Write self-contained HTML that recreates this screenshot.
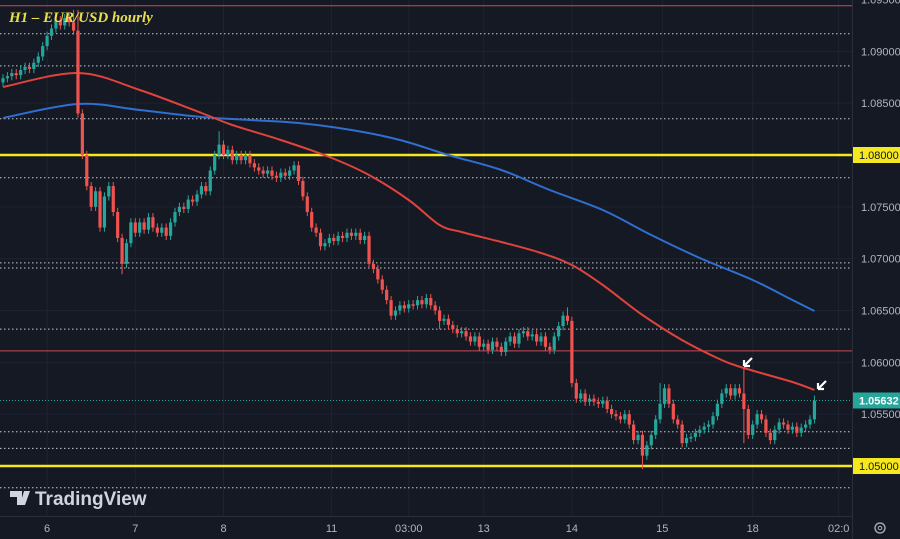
<!DOCTYPE html>
<html><head><meta charset="utf-8"><style>
html,body{margin:0;padding:0;background:#151924;width:900px;height:539px;overflow:hidden}
svg{display:block;font-family:"Liberation Sans",sans-serif}
</style></head><body>
<svg id="c" width="900" height="539" viewBox="0 0 900 539">
<rect width="900" height="539" fill="#151924"/>
<g id="grid"></g>
<g id="levels"></g>
<g id="mas"></g>
<g id="candles"></g>
<g id="axes"></g>
<text x="9" y="22" fill="#e8e04a" font-family="Liberation Serif,serif" font-style="italic" font-weight="bold" font-size="15">H1 – EUR/USD hourly</text>
<g>
<path d="M10 491h12v14h-5v-8h-7z M24 491h6l-5 14h-5z" fill="#d1d4dc"/>
<text x="35" y="505" fill="#d1d4dc" font-size="19" font-weight="bold">TradingView</text>
</g>
<g><path d="M752 358 L744 366 M744 366 l0-6 M744 366 l6 0" stroke="#fff" stroke-width="2.2" fill="none"/></g>
<g><path d="M826 381 L818 389 M818 389 l0-6 M818 389 l6 0" stroke="#fff" stroke-width="2.2" fill="none"/></g>
<g><circle cx="880" cy="528" r="5" stroke="#b2b5be" fill="none" stroke-width="1.3"/><circle cx="880" cy="528" r="1.8" stroke="#b2b5be" fill="none"/></g>
</svg>
<script>
const closes=[1.0874,1.0876,1.0879,1.0877,1.0882,1.0885,1.0883,1.0889,1.0895,1.0905,
1.0915,1.0922,1.0930,1.0925,1.0932,1.0928,1.0920,1.0840,1.0800,1.0770,
1.0750,1.0765,1.0730,1.0760,1.0770,1.0745,1.0720,1.0695,1.0715,1.0735,
1.0725,1.0735,1.0728,1.0740,1.0730,1.0725,1.0730,1.0722,1.0735,1.0745,
1.0750,1.0748,1.0757,1.0755,1.0762,1.0770,1.0765,1.0785,1.0800,1.0810,
1.0800,1.0805,1.0795,1.0800,1.0795,1.0800,1.0792,1.0788,1.0785,1.0782,
1.0785,1.0780,1.0778,1.0783,1.0780,1.0785,1.0790,1.0775,1.0760,1.0745,
1.0730,1.0725,1.0712,1.0715,1.0720,1.0717,1.0722,1.0720,1.0725,1.0722,
1.0725,1.0718,1.0722,1.0695,1.0690,1.0680,1.0670,1.0660,1.0645,1.0650,
1.0655,1.0652,1.0656,1.0655,1.0660,1.0656,1.0662,1.0655,1.0650,1.0640,
1.0642,1.0636,1.0632,1.0628,1.0630,1.0625,1.0620,1.0625,1.0615,1.0618,
1.0612,1.0620,1.0615,1.0610,1.0620,1.0625,1.0618,1.0628,1.0630,1.0625,
1.0627,1.0620,1.0625,1.0615,1.0612,1.0625,1.0635,1.0645,1.0640,1.0580,
1.0565,1.0570,1.0562,1.0565,1.0562,1.0560,1.0563,1.0555,1.0550,1.0548,
1.0545,1.0550,1.0540,1.0525,1.0530,1.0510,1.0520,1.0530,1.0545,1.0560,
1.0575,1.0560,1.0545,1.0540,1.0522,1.0527,1.0528,1.0532,1.0535,1.0538,
1.0540,1.0548,1.0560,1.0570,1.0575,1.0568,1.0575,1.0570,1.0555,1.0530,
1.0540,1.0550,1.0545,1.0532,1.0525,1.0535,1.0542,1.0540,1.0535,1.0538,
1.0532,1.0537,1.0540,1.0545,1.0563];
const firstOpen=1.0870;
const spikeIdx=[16,17,27,49,99,128,145,149,168,184];
const spikeHigh=[1.0940,1.0940,null,1.0823,null,1.0653,null,1.0580,1.0595,1.0568];
const spikeLow=[null,null,1.0685,null,1.0632,null,1.0497,null,1.0522,null];
const redIdx=[0,17,31,45,52,63,74,83,92,99,104,113,122,129,136,145,154,163,168,179,184];
const redVals=[1.08656,1.08791,1.08627,1.08405,1.08289,1.08145,1.07981,1.07807,1.07566,1.07325,1.07257,1.07161,1.07055,1.06939,1.06746,1.06457,1.06215,1.06022,1.05945,1.05810,1.05733];
const blueIdx=[0,17,31,45,56,67,79,90,101,113,124,136,147,158,170,179,184];
const blueVals=[1.08357,1.08492,1.08434,1.08367,1.08338,1.08309,1.08241,1.08145,1.08000,1.07855,1.07662,1.07469,1.07228,1.07006,1.06794,1.06601,1.06495];
const priceTicks=[1.095,1.090,1.085,1.080,1.075,1.070,1.065,1.060,1.055,1.050];
const dottedLevels=[1.0917,1.0886,1.0835,1.0778,1.0696,1.0691,1.0632,1.0533,1.0517,1.0479];
const redLevels=[1.0944,1.0611];
const yellowLevels=[1.0800,1.0500];
const lastPrice=1.05632;
const timeLabels=["6","7","8","11","03:00","13","14","15","18","02:0"];
const timeIdx=[10,30,50,74.5,92,109,129,149.5,170,189.5];

const NS="http://www.w3.org/2000/svg";
const PW=852, AXY=516;
function y(p){return 155+(1.08-p)*10367;}
function x(i){return 3+i*4.41;}
function mk(tag,attrs,parent){const e=document.createElementNS(NS,tag);for(const k in attrs)e.setAttribute(k,attrs[k]);parent.appendChild(e);return e;}
const grid=document.getElementById('grid'),lv=document.getElementById('levels'),ma=document.getElementById('mas'),cg=document.getElementById('candles'),ax=document.getElementById('axes');

priceTicks.forEach(p=>{const l=mk('line',{x1:0,x2:PW,y1:y(p),y2:y(p),stroke:'#1f2330','stroke-width':1},grid);

});
timeIdx.forEach(i=>{const l=mk('line',{x1:x(i),x2:x(i),y1:0,y2:AXY,stroke:'#1f2330','stroke-width':1},grid);

});

dottedLevels.forEach(p=>{const l=mk('line',{x1:0,x2:PW,y1:y(p),y2:y(p),stroke:'#c8cad0','stroke-width':1,'stroke-dasharray':'1.5 2.5'},lv);

});
redLevels.forEach(p=>{const l=mk('line',{x1:0,x2:PW,y1:y(p),y2:y(p),stroke:'#c94a55','stroke-width':1},lv);

});
{const l=mk('line',{x1:0,x2:PW,y1:y(lastPrice),y2:y(lastPrice),stroke:'#26a69a','stroke-width':1,'stroke-dasharray':'1 2'},lv);

}
yellowLevels.forEach(p=>{const l=mk('line',{x1:0,x2:PW,y1:y(p),y2:y(p),stroke:'#f5e81f','stroke-width':2.5},lv);

});

function maPath(idx,vals,color,name){
const pts=idx.map((i,k)=>[x(i),y(vals[k])]);
let d='M'+pts[0][0].toFixed(1)+' '+pts[0][1].toFixed(1);
for(let k=0;k<pts.length-1;k++){
const p0=pts[Math.max(0,k-1)],p1=pts[k],p2=pts[k+1],p3=pts[Math.min(pts.length-1,k+2)];
const c1=[p1[0]+(p2[0]-p0[0])/6,p1[1]+(p2[1]-p0[1])/6],c2=[p2[0]-(p3[0]-p1[0])/6,p2[1]-(p3[1]-p1[1])/6];
d+='C'+c1.map(v=>v.toFixed(1)).join(' ')+' '+c2.map(v=>v.toFixed(1)).join(' ')+' '+p2[0].toFixed(1)+' '+p2[1].toFixed(1);}
const p=mk('path',{d:d,stroke:color,'stroke-width':2,fill:'none','stroke-linejoin':'round'},ma);

}
maPath(blueIdx,blueVals,'#2e6fd0','ma-200-line');
maPath(redIdx,redVals,'#e0423c','ma-100-line');

closes.forEach((c,i)=>{const o=i?closes[i-1]:firstOpen;let hi=Math.max(o,c)+0.0004,lo=Math.min(o,c)-0.0004;
const s=spikeIdx.indexOf(i);if(s>=0){if(spikeHigh[s]!==null)hi=spikeHigh[s];if(spikeLow[s]!==null)lo=spikeLow[s];}
const col=c>=o?'#26a69a':'#ef5350';const cx=x(i);
const w=mk('line',{x1:cx,x2:cx,y1:y(hi),y2:y(lo),stroke:col,'stroke-width':1},cg);


const top=y(Math.max(o,c)),h=Math.max(1.5,y(Math.min(o,c))-top);
const b=mk('rect',{x:cx-1.6,y:top,width:3.2,height:h,fill:col},cg);

});

mk('rect',{x:PW,y:0,width:900-PW,height:539,fill:'#151924'},ax);
mk('line',{x1:PW+0.5,x2:PW+0.5,y1:0,y2:539,stroke:'#2a2e39'},ax);
mk('rect',{x:0,y:AXY,width:PW,height:539-AXY,fill:'#151924'},ax);
mk('line',{x1:0,x2:PW,y1:AXY+0.5,y2:AXY+0.5,stroke:'#2a2e39'},ax);
priceTicks.forEach(p=>{if(yellowLevels.some(v=>Math.abs(v-p)<1e-6))return;
const t=mk('text',{x:861,y:y(p)+4,fill:'#b2b5be','font-size':11},ax);t.textContent=p.toFixed(5);

});
yellowLevels.forEach(p=>{mk('rect',{x:PW+1,y:y(p)-8,width:47,height:16,fill:'#f5e81f'},ax);
const t=mk('text',{x:859,y:y(p)+4,fill:'#131722','font-size':11},ax);t.textContent=p.toFixed(5);

});
mk('rect',{x:PW+1,y:y(lastPrice)-8,width:47,height:16,fill:'#26a69a'},ax);
{const t=mk('text',{x:859,y:y(lastPrice)+4,fill:'#ffffff','font-size':11,'font-weight':'bold'},ax);t.textContent=lastPrice.toFixed(5);

}
timeLabels.forEach((s,k)=>{const t=mk('text',{x:x(timeIdx[k]),y:532,fill:'#b2b5be','font-size':11,'text-anchor':'middle'},ax);t.textContent=s;

});
</script>
</body></html>
